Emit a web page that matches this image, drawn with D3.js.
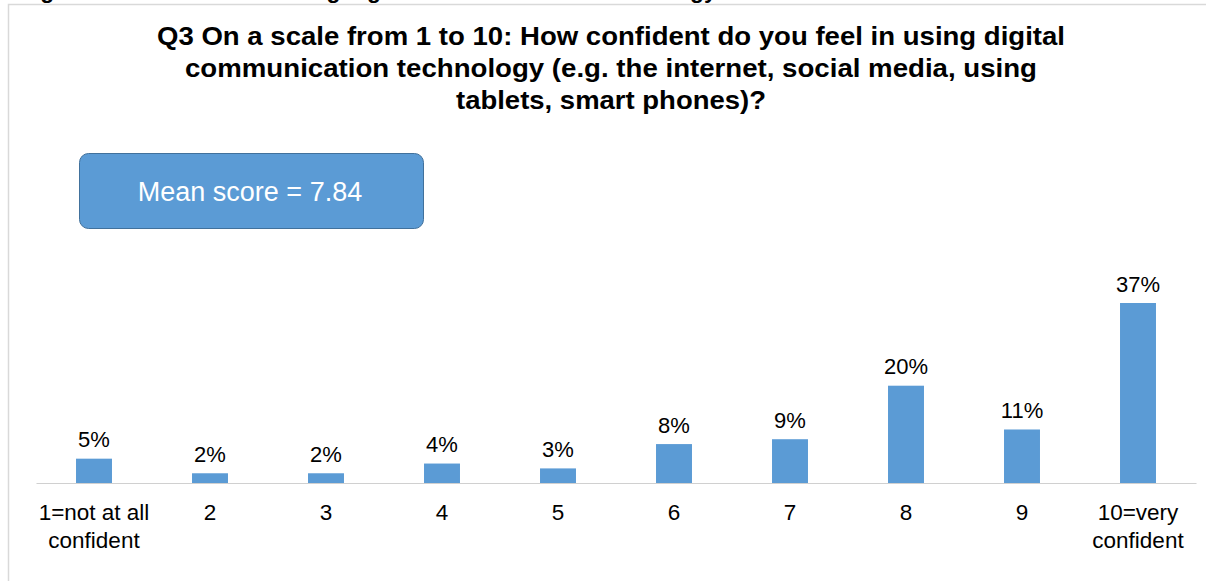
<!DOCTYPE html>
<html>
<head>
<meta charset="utf-8">
<script src="https://cdn.jsdelivr.net/npm/d3@7"></script>
<style>
  html, body { margin: 0; padding: 0; background: #fff; }
  svg { display: block; }
  text { font-family: "Liberation Sans", Arial, sans-serif; }
</style>
</head>
<body>
<svg id="chart" width="1206" height="581"></svg>
<script>
// Responses to Q3, share of respondents per score
const categories = ["1", "2", "3", "4", "5", "6", "7", "8", "9", "10"];
const categoryLabels = [["1=not at all", "confident"], ["2"], ["3"], ["4"], ["5"], ["6"], ["7"], ["8"], ["9"], ["10=very", "confident"]];
const percentages = [5, 2, 2, 4, 3, 8, 9, 20, 11, 37];
const titleLines = [
  "Q3 On a scale from 1 to 10: How confident do you feel in using digital",
  "communication technology (e.g. the internet, social media, using",
  "tablets, smart phones)?"
];
const titleWidths = [908, 852, 310];
const meanScore = 7.84;
const captionText = "Figure 3: Confidence in using digital communication technology";

const svg = d3.select("#chart");
const H = 581;
const barColor = "#5b9bd5";
const baseline = 483;

// Caption line above the frame (only its descenders fall inside the page)
svg.append("text")
  .attr("x", 20).attr("y", -2)
  .attr("font-size", 22.8).attr("font-weight", "bold")
  .attr("fill", "#000")
  .text(captionText);

// Outer frame
svg.append("path")
  .attr("d", `M8.5,${H} V4.5 H1206`)
  .attr("fill", "none").attr("stroke", "#d9d9d9").attr("stroke-width", 1.5);

// Title
svg.append("g").selectAll("text")
  .data(titleLines)
  .join("text")
  .attr("x", 611)
  .attr("y", (d, i) => 45 + i * 32)
  .attr("text-anchor", "middle")
  .attr("font-size", 26)
  .attr("font-weight", "bold")
  .attr("fill", "#000")
  .attr("textLength", (d, i) => titleWidths[i])
  .attr("lengthAdjust", "spacingAndGlyphs")
  .text(d => d);

// Scales
const x = d3.scaleBand().domain(categories).range([36, 1196]).paddingInner(0.69).paddingOuter(0.345);
const y = d3.scaleLinear().domain([0, 37]).range([baseline, 303]);

// Bars
svg.append("g").selectAll("rect")
  .data(percentages)
  .join("rect")
  .attr("x", (d, i) => x(categories[i]))
  .attr("y", d => y(d))
  .attr("width", x.bandwidth())
  .attr("height", d => baseline - y(d))
  .attr("fill", barColor);

// Category axis
const axis = svg.append("g").attr("transform", `translate(0,${baseline})`)
  .call(d3.axisBottom(x).tickSize(0).tickFormat(""));
axis.select(".domain").attr("stroke", "#d0d0d0").attr("stroke-width", 1.2);

const tickGroups = svg.append("g").selectAll("text")
  .data(categoryLabels)
  .join("text")
  .attr("x", (d, i) => x(categories[i]) + x.bandwidth() / 2)
  .attr("y", 520)
  .attr("text-anchor", "middle")
  .attr("font-size", 22.5)
  .attr("fill", "#000");
tickGroups.selectAll("tspan")
  .data(d => d)
  .join("tspan")
  .attr("x", function () { return d3.select(this.parentNode).attr("x"); })
  .attr("dy", (d, i) => i === 0 ? 0 : 28)
  .text(d => d);

// Value labels
svg.append("g").selectAll("text")
  .data(percentages)
  .join("text")
  .attr("x", (d, i) => x(categories[i]) + x.bandwidth() / 2)
  .attr("y", d => y(d) - 11.5)
  .attr("text-anchor", "middle")
  .attr("font-size", 22)
  .attr("fill", "#000")
  .text(d => d + "%");

// Mean score callout
svg.append("rect")
  .attr("x", 79.5).attr("y", 153.5)
  .attr("width", 344).attr("height", 75)
  .attr("rx", 9).attr("ry", 9)
  .attr("fill", barColor)
  .attr("stroke", "#41719c").attr("stroke-width", 1);
svg.append("text")
  .attr("x", 250).attr("y", 201)
  .attr("text-anchor", "middle")
  .attr("font-size", 27)
  .attr("fill", "#fff")
  .text(`Mean score = ${meanScore}`);
</script>
</body>
</html>
